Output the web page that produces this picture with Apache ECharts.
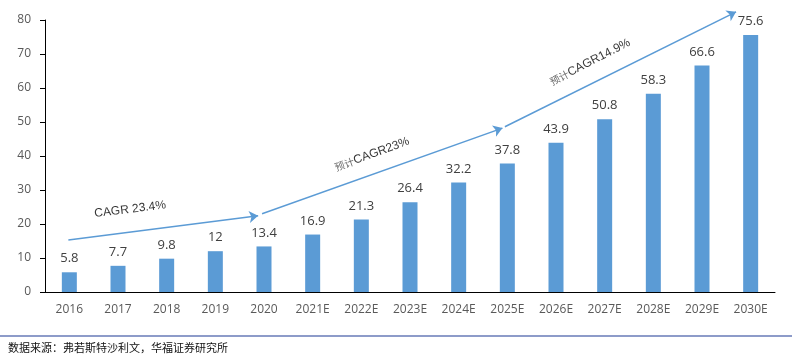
<!DOCTYPE html>
<html><head><meta charset="utf-8">
<script src="https://cdn.jsdelivr.net/npm/echarts@6/dist/echarts.min.js"></script>
<style>html,body{margin:0;padding:0;background:#fff}#c{width:792px;height:362px}</style>
</head><body><div id="c"></div>
<script>
const categories = ['2016','2017','2018','2019','2020','2021E','2022E','2023E','2024E','2025E','2026E','2027E','2028E','2029E','2030E'];
const values = [5.8, 7.7, 9.8, 12, 13.4, 16.9, 21.3, 26.4, 32.2, 37.8, 43.9, 50.8, 58.3, 66.6, 75.6];
const yTicks = [0, 10, 20, 30, 40, 50, 60, 70, 80];
const arrows = [
  [[-0.02, 15.3], [3.88, 22.4]],
  [[3.96, 23.0], [8.9, 48.2]],
  [[8.95, 48.6], [13.7, 82.4]]
];
const notes = [
  {prefix: '', text: 'CAGR 23.4%', pos: [1.25, 24.3], rotate: 7},
  {prefix: '预计', text: 'CAGR23%', pos: [6.22, 40.5], rotate: 20},
  {prefix: '预计', text: 'CAGR14.9%', pos: [10.7, 67.6], rotate: 27}
];
const source = '数据来源：弗若斯特沙利文，华福证券研究所';

const chart = echarts.init(document.getElementById('c'));
chart.setOption({
  animation: false,
  grid: {left: 45, right: 17, top: 20, bottom: 70, containLabel: false, outerBoundsMode: 'none'},
  xAxis: [{
    type: 'category', data: categories,
    axisLine: {onZero: false, lineStyle: {color: '#000', width: 1}},
    axisTick: {show: false},
    axisLabel: {color: '#595959', fontSize: 12, fontFamily: 'Open Sans', margin: 12}
  }, {
    type: 'value', min: -0.5, max: 14.5, show: false
  }],
  yAxis: {
    type: 'value', min: yTicks[0], max: yTicks[yTicks.length-1], interval: 10,
    splitLine: {show: false},
    axisLine: {show: true, onZero: false, lineStyle: {color: '#000'}},
    axisTick: {show: true, inside: false, length: 5, lineStyle: {color: '#000'}},
    axisLabel: {color: '#595959', fontSize: 12, fontFamily: 'Open Sans', margin: 14}
  },
  graphic: [
    {type: 'line', shape: {x1: 0, y1: 336, x2: 792, y2: 336}, style: {stroke: '#8d9bc9', lineWidth: 2}},
    {type: 'text', left: 8, top: 342, style: {text: source, fontSize: 11, fill: '#111', fontFamily: 'Noto Sans CJK SC'}}
  ],
  series: [{
    type: 'bar', data: values, barWidth: 15,
    itemStyle: {color: '#5b9bd5'},
    label: {show: true, position: 'top', distance: 7, color: '#404040', fontSize: 13, fontFamily: 'Open Sans'}
  }, {
    type: 'lines', coordinateSystem: 'cartesian2d', xAxisIndex: 1, clip: false,
    symbol: ['none', 'arrow'], symbolSize: 9,
    lineStyle: {color: '#5b9bd5', width: 1.5, opacity: 1},
    data: arrows.map(a => ({coords: a}))
  }, {
    type: 'scatter', xAxisIndex: 1, symbolSize: 0, clip: false,
    data: notes.map(n => ({value: n.pos, label: {
      show: true,
      formatter: (n.prefix ? '{p|' + n.prefix + '}' : '') + '{t|' + n.text + '}',
      rotate: n.rotate, position: 'inside',
      rich: {
        p: {fontSize: 10, color: '#444', fontFamily: 'Noto Sans CJK SC'},
        t: {fontSize: 12, color: '#000', fontFamily: 'Liberation Sans'}
      }
    }}))
  }]
});
</script></body></html>
